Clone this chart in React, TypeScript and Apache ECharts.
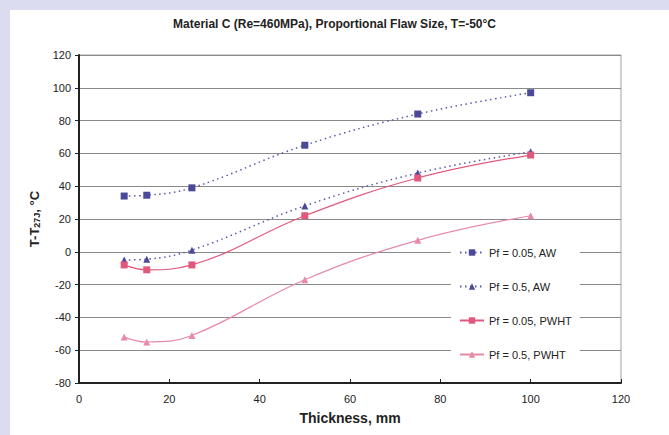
import React, { useEffect, useRef } from "react";
import * as echarts from "echarts";

const thickness = [10, 15, 25, 50, 75, 100];
const awPf005 = [34, 34.5, 39, 65, 84, 97];
const awPf05 = [-5, -4.5, 1, 28, 48, 61];
const pwhtPf005 = [-8, -11, -8, 22, 45, 59];
const pwhtPf05 = [-52, -55, -51, -17, 7, 22];
const seriesNames = ["Pf = 0.05, AW", "Pf = 0.5, AW", "Pf = 0.05, PWHT", "Pf = 0.5, PWHT"];

const pairs = (ys: number[]) => thickness.map((x, i) => [x, ys[i]]);

export default function App() {
  const ref = useRef<HTMLDivElement>(null);
  useEffect(() => {
    document.body.style.margin = "0";
    const chart = echarts.init(ref.current!, null, { renderer: "svg" });
    const font = "Liberation Sans, Arial, sans-serif";
    const blue = "#4a4a98";
    const pink = "#e0587c";
    const lpink = "#e68aa6";
    chart.setOption({
      animation: false,
      backgroundColor: "#dcdcf0",
      graphic: [
        { type: "rect", left: 10, top: 10, shape: { width: 659, height: 425 }, style: { fill: "#ffffff" }, z: -10 },
      ],
      title: {
        text: "Material C (Re=460MPa), Proportional Flaw Size, T=-50°C",
        left: "center",
        top: 13,
        textStyle: { fontFamily: font, fontSize: 12, fontWeight: "bold", color: "#222" },
      },
      grid: { left: 79, right: 48, top: 55, bottom: 52, show: true, borderColor: "#a0a0a0", borderWidth: 1 },
      xAxis: {
        type: "value",
        min: 0,
        max: 120,
        interval: 20,
        name: "Thickness, mm",
        nameLocation: "middle",
        nameGap: 28,
        nameTextStyle: { fontFamily: font, fontSize: 14, fontWeight: "bold", color: "#222" },
        axisLine: { show: true, onZero: false, lineStyle: { color: "#222", width: 2 } },
        axisTick: { show: true, inside: true, length: 4, lineStyle: { color: "#222" } },
        axisLabel: { fontFamily: font, fontSize: 11, color: "#222", margin: 10 },
        splitLine: { show: false },
      },
      yAxis: {
        type: "value",
        min: -80,
        max: 120,
        interval: 20,
        name: "T-T{sub|27J}, °C",
        nameLocation: "middle",
        nameGap: 36,
        nameRotate: 90,
        nameTextStyle: {
          fontFamily: font,
          fontSize: 13,
          fontWeight: "bold",
          color: "#222",
          rich: { sub: { fontSize: 9, fontWeight: "bold", verticalAlign: "bottom", padding: [6, 0, 0, 0], fontFamily: font, color: "#222" } },
        },
        axisLine: { show: true, lineStyle: { color: "#222", width: 2 } },
        axisTick: { show: true, length: 4, lineStyle: { color: "#222" } },
        axisLabel: { fontFamily: font, fontSize: 11, color: "#222", margin: 8 },
        splitLine: { show: true, lineStyle: { color: "#8a8a8a", width: 1 } },
      },
      legend: {
        orient: "vertical",
        left: 451,
        top: 242,
        itemGap: 23,
        itemWidth: 24,
        itemHeight: 8,
        padding: [5, 8, 5, 8],
        backgroundColor: "#ffffff",
        textStyle: { fontFamily: font, fontSize: 11, color: "#222" },
        data: seriesNames,
      },
      series: [
        {
          name: seriesNames[0],
          type: "line",
          smooth: 0.4,
          data: pairs(awPf005),
          symbol: "rect",
          symbolSize: 7,
          itemStyle: { color: blue },
          lineStyle: { color: "#5a5aa8", type: [1.5, 3.5], width: 1.5 },
        },
        {
          name: seriesNames[1],
          type: "line",
          smooth: 0.4,
          data: pairs(awPf05),
          symbol: "triangle",
          symbolSize: 7,
          itemStyle: { color: blue },
          lineStyle: { color: "#5a5aa8", type: [1.5, 3.5], width: 1.5 },
        },
        {
          name: seriesNames[2],
          type: "line",
          smooth: 0.4,
          data: pairs(pwhtPf005),
          symbol: "rect",
          symbolSize: 7,
          itemStyle: { color: pink },
          lineStyle: { color: pink, width: 1.2 },
        },
        {
          name: seriesNames[3],
          type: "line",
          smooth: 0.4,
          data: pairs(pwhtPf05),
          symbol: "triangle",
          symbolSize: 7,
          itemStyle: { color: lpink },
          lineStyle: { color: lpink, width: 1.2 },
        },
      ],
    });
    return () => chart.dispose();
  }, []);
  return <div ref={ref} style={{ width: 669, height: 435 }} />;
}
